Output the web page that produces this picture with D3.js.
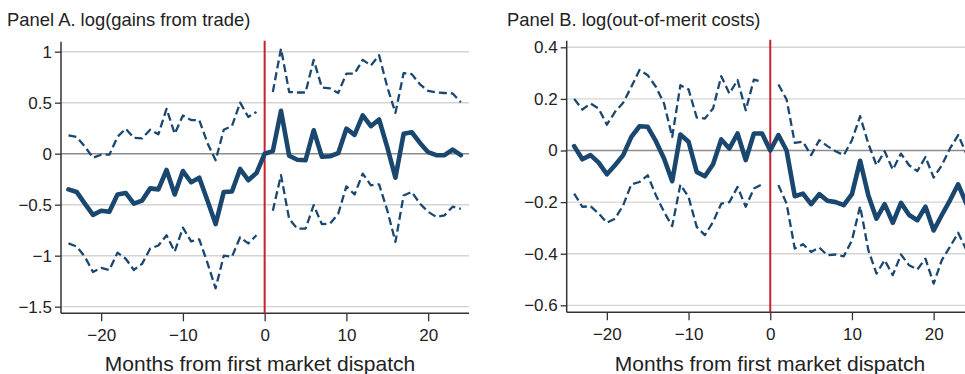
<!DOCTYPE html>
<html>
<head>
<meta charset="utf-8">
<script src="https://cdn.jsdelivr.net/npm/d3@7"></script>
<style>
  html, body { margin: 0; padding: 0; background: #fff; }
  svg { display: block; font-family: "Liberation Sans", Arial, Helvetica, sans-serif; }
</style>
</head>
<body>
<svg id="chart" width="965" height="374"></svg>
<script>
// Event-study estimates by month relative to first market dispatch.
const months = d3.range(-24, 25);

// Panel A: log(gains from trade)
const gainsEst = [
  -0.35, -0.375, -0.49, -0.60, -0.56, -0.57, -0.40, -0.385, -0.49, -0.46, -0.34, -0.35,
  -0.16, -0.40, -0.17, -0.28, -0.235, -0.46, -0.69, -0.375, -0.37, -0.15, -0.26, -0.19,
  0.0,
  0.025, 0.42, -0.02, -0.06, -0.065, 0.23, -0.03, -0.025, 0.005, 0.245, 0.185, 0.375,
  0.27, 0.335, 0.065, -0.235, 0.195, 0.21, 0.105, 0.015, -0.015, -0.015, 0.04, -0.015
];
const gainsHi = [
  0.18, 0.165, 0.07, -0.04, -0.01, -0.01, 0.165, 0.245, 0.155, 0.15, 0.235, 0.19,
  0.44, 0.195, 0.375, 0.33, 0.33, 0.105, -0.065, 0.235, 0.27, 0.50, 0.36, 0.41,
  null,
  0.605, 1.03, 0.605, 0.60, 0.60, 0.92, 0.65, 0.64, 0.595, 0.785, 0.785, 0.92,
  0.865, 0.965, 0.655, 0.40, 0.79, 0.78, 0.68, 0.615, 0.60, 0.595, 0.59, 0.505
];
const gainsLo = [
  -0.88, -0.91, -1.01, -1.16, -1.12, -1.14, -0.97, -1.03, -1.14, -1.08, -0.93, -0.90,
  -0.80, -0.96, -0.725, -0.86, -0.84, -1.07, -1.32, -1.00, -1.01, -0.82, -0.88, -0.80,
  null,
  -0.56, -0.21, -0.64, -0.735, -0.735, -0.505, -0.69, -0.685, -0.59, -0.32, -0.40, -0.195,
  -0.31, -0.30, -0.555, -0.865, -0.41, -0.375, -0.49, -0.57, -0.62, -0.605, -0.52, -0.54
];

// Panel B: log(out-of-merit costs)
const costsEst = [
  0.017, -0.034, -0.018, -0.047, -0.092, -0.057, -0.018, 0.053, 0.094, 0.092, 0.036, -0.031,
  -0.119, 0.062, 0.034, -0.083, -0.10, -0.053, 0.043, 0.008, 0.066, -0.037, 0.066, 0.066,
  0.0,
  0.06, 0.0, -0.177, -0.167, -0.208, -0.169, -0.195, -0.20, -0.212, -0.169, -0.04, -0.173,
  -0.264, -0.208, -0.28, -0.203, -0.25, -0.27, -0.218, -0.31, -0.25, -0.193, -0.131, -0.206
];
const costsHi = [
  0.20, 0.159, 0.182, 0.163, 0.10, 0.15, 0.185, 0.247, 0.312, 0.292, 0.247, 0.182,
  0.053, 0.253, 0.237, 0.128, 0.124, 0.163, 0.288, 0.221, 0.273, 0.156, 0.275, 0.266,
  null,
  0.256, 0.198, 0.03, 0.034, -0.018, 0.04, 0.017, -0.003, -0.018, 0.04, 0.133, 0.027,
  -0.057, -0.003, -0.074, -0.012, -0.057, -0.08, -0.025, -0.105, -0.057, 0.008, 0.06, -0.012
];
const costsLo = [
  -0.167, -0.218, -0.216, -0.244, -0.28, -0.264, -0.212, -0.131, -0.122, -0.096, -0.173, -0.238,
  -0.293, -0.132, -0.18, -0.296, -0.328, -0.277, -0.206, -0.20, -0.141, -0.218, -0.147, -0.131,
  null,
  -0.134, -0.206, -0.38, -0.363, -0.393, -0.376, -0.406, -0.403, -0.41, -0.348, -0.216, -0.385,
  -0.477, -0.425, -0.483, -0.403, -0.445, -0.461, -0.419, -0.516, -0.425, -0.373, -0.319, -0.385
];

const xTicks = [-20, -10, 0, 10, 20];
const yTicksA = [-1.5, -1, -0.5, 0, 0.5, 1];
const yTicksB = [-0.6, -0.4, -0.2, 0, 0.2, 0.4];

const navy = "#1a476f";
const red = "#c8202f";
const svg = d3.select("#chart");
const fmt = v => (v < 0 ? "\u2212" : "") + Math.abs(v);

function panel(cfg) {
  const x = d3.scaleLinear().domain([-25, 25]).range(cfg.xRange);
  const y = d3.scaleLinear().domain(cfg.yDomain).range([cfg.bottom, cfg.top]);
  const g = svg.append("g");
  const left = cfg.xRange[0] + 0.7, right = cfg.xRange[1];

  // horizontal grid
  g.append("g").selectAll("line").data(cfg.yTicks).join("line")
    .attr("x1", left).attr("x2", right)
    .attr("y1", d => y(d)).attr("y2", d => y(d))
    .attr("stroke", d => d === 0 ? "#8c8c8c" : "#d4d4d4")
    .attr("stroke-width", d => d === 0 ? 1.6 : 1.4);

  // axes
  const ya = g.append("g").attr("transform", `translate(${left},0)`)
    .call(d3.axisLeft(y).tickValues(cfg.yTicks).tickFormat(fmt).tickSize(6).tickPadding(3).tickSizeOuter(0));
  const xa = g.append("g").attr("transform", `translate(0,${cfg.bottom})`)
    .call(d3.axisBottom(x).tickValues(xTicks).tickFormat(fmt).tickSize(8).tickPadding(8).tickSizeOuter(0));
  [ya, xa].forEach(a => {
    a.select(".domain").remove();
    a.selectAll("line").attr("stroke", "#333").attr("stroke-width", 1.3);
    a.selectAll("text").attr("fill", "#222").style("font-size", "17px")
      .style("font-family", "'Liberation Sans', Arial, Helvetica, sans-serif");
  });
  g.append("line").attr("x1", left).attr("x2", left).attr("y1", cfg.top).attr("y2", cfg.bottom)
    .attr("stroke", "#333").attr("stroke-width", 1.5);
  g.append("line").attr("x1", left).attr("x2", right).attr("y1", cfg.bottom).attr("y2", cfg.bottom)
    .attr("stroke", "#333").attr("stroke-width", 1.5);

  // treatment onset
  g.append("line").attr("x1", x(0)).attr("x2", x(0)).attr("y1", cfg.top - 1).attr("y2", cfg.bottom)
    .attr("stroke", red).attr("stroke-width", 2);

  const line = d3.line().defined(d => d[1] !== null).x(d => x(d[0])).y(d => y(d[1]));
  const pairs = arr => months.map((m, i) => [m, arr[i]]);

  [cfg.hi, cfg.lo].forEach(arr => {
    g.append("path").datum(pairs(arr)).attr("d", line)
      .attr("fill", "none").attr("stroke", navy).attr("stroke-width", 2.3)
      .attr("stroke-dasharray", "8,4").attr("stroke-linejoin", "round");
  });
  g.append("path").datum(pairs(cfg.est)).attr("d", line)
    .attr("fill", "none").attr("stroke", navy).attr("stroke-width", 4.6)
    .attr("stroke-linejoin", "round").attr("stroke-linecap", "round");

  svg.append("text").attr("x", cfg.titleX).attr("y", 26).text(cfg.title)
    .attr("fill", "#222").style("font-size", "18.4px");
  svg.append("text").attr("x", cfg.labelX).attr("y", 371).attr("text-anchor", "middle")
    .text("Months from first market dispatch").attr("fill", "#222").style("font-size", "21px");
}

panel({
  xRange: [60.3, 469], yDomain: [-1.565, 1.098], top: 41.7, bottom: 313.3,
  yTicks: yTicksA, est: gainsEst, hi: gainsHi, lo: gainsLo,
  title: "Panel A. log(gains from trade)", titleX: 7, labelX: 260
});
panel({
  xRange: [566, 974.5], yDomain: [-0.627, 0.4256], top: 40.7, bottom: 312.3,
  yTicks: yTicksB, est: costsEst, hi: costsHi, lo: costsLo,
  title: "Panel B. log(out-of-merit costs)", titleX: 507, labelX: 770
});
</script>
</body>
</html>
